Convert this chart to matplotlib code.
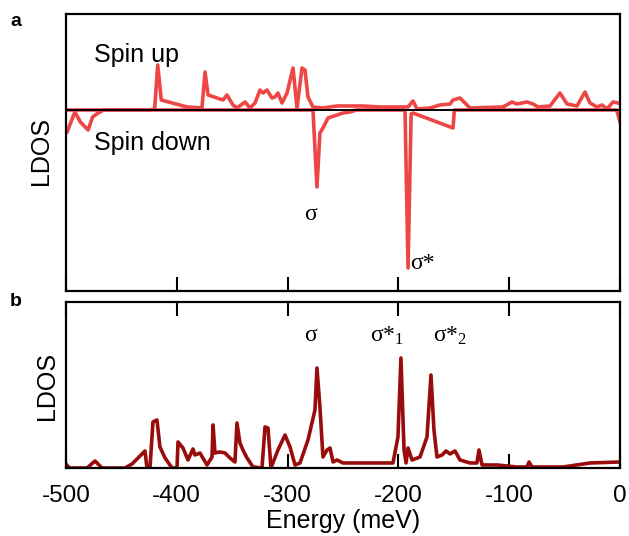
import matplotlib
matplotlib.use("Agg")
import matplotlib.pyplot as plt
import numpy as np

plt.rcParams["axes.unicode_minus"] = False

# ---- Data ----
# Panel a: spin up (positive LDOS)
up_E = [-500, -425, -420, -417.2, -414, -390.8, -377.3, -374.5, -371.8, -358.3, -354.7,
        -349.3, -345.7, -338.4, -333.9, -329.4, -324.9, -322.2, -318.6, -314.1,
        -311.4, -308.7, -305.1, -300.5, -295.1, -291.5, -287.0, -284.3, -281.6,
        -277.1, -268.1, -261.7, -255.4, -241.0, -232.0, -216.6, -195.8, -191.3,
        -186.8, -183.2, -171.5, -162.5, -153.4, -150.7, -144.4, -135.4, -105.6,
        -97.5, -93.0, -84.0, -78.5, -74.0, -63.2, -54.2, -47.8, -38.8, -31.6,
        -27.1, -20.8, -16.2, -11.7, -6.3, -1.8]
up_V = [0, 0, 1, 45, 10, 3, 2, 38, 15, 10, 15,
        5, 2, 8, 2, 7, 20, 17, 20, 12,
        13, 17, 7, 17, 42, 2, 42, 40, 13,
        3, 2, 3, 4, 4, 4, 3, 3, 3,
        9, 1, 2, 5, 6, 10, 12, 2, 3,
        8, 6, 8, 6, 3, 4, 17, 6, 4, 18,
        7, 3, 5, 1, 8, 7]

# Panel a: spin down (negative LDOS)
dn_E = [-499, -492, -487, -480, -476, -471, -466, -300, -277.1, -273.5, -270.8,
        -268.1, -263.5, -255.4, -250, -243.7, -238, -196, -194, -191.3, -188.5,
        -186.8, -150.7, -149.5, -3, 0]
dn_V = [-22, -2, -12, -20, -7, -3, 0, 0, 0, -77, -23,
        -18, -8, -5, -3, -2, 0, 0, -1, -158, -4,
        -3, -18, 0, 0, -12]

# Panel b: total LDOS
b_E = [-500, -499.4, -496.4, -481.0, -473.8, -467.5, -446.8, -440.4, -428.7, -426.9,
       -424.2, -421.5, -417.9, -415.2, -410.6, -404.3, -399.8, -398.9, -394.4,
       -389.9, -385.4, -383.6, -379.1, -372.7, -368.2, -367.3, -365.5, -361.0,
       -356.5, -352.0, -347.5, -345.7, -343.0, -340.3, -336.6, -331.2, -323.1,
       -320.4, -317.7, -315.0, -308.7, -302.3, -297.8, -293.3, -288.8, -281.6,
       -275.3, -273.5, -270.8, -268.1, -264.4, -261.7, -259.0, -255.4, -250.0,
       -246.4, -204.9, -200.4, -197.7, -194.9, -193.1, -191.3, -187.7, -180.5,
       -174.2, -170.6, -167.9, -165.2, -160.6, -157.0, -153.4, -148.9, -144.4,
       -135.4, -129.1, -127.3, -124.5, -111.0, -92.9, -83.9, -82.1, -79.4,
       -51.4, -27.1, 0]
b_V = [4, 3, 0, 0, 7, 0, 0, 4, 17, 0,
       0, 46, 48, 21, 10, 0, 0, 26, 20,
       8, 19, 13, 15, 3, 11, 43, 15, 16,
       15, 10, 6, 45, 25, 18, 10, 1, 0,
       41, 40, 0, 18, 33, 21, 3, 5, 28,
       58, 100, 61, 11, 18, 20, 6, 8, 5,
       5, 5, 31, 110, 18, 5, 20, 8, 11,
       31, 93, 38, 11, 13, 17, 14, 17, 8,
       5, 5, 18, 3, 3, 1, 1, 6, 1,
       1, 5, 6]

xticks = [-500, -400, -300, -200, -100, 0]

# ---- Figure ----
fig = plt.figure(figsize=(6.29, 5.36), dpi=100)
sans = "Liberation Sans"
serif = "Liberation Serif"

ax1 = fig.add_axes([0.1049, 0.4571, 0.8808, 0.5168])
ax2 = fig.add_axes([0.1049, 0.1269, 0.8808, 0.3097])

red = "#ee4545"
dark = "#9a0c0c"

ax1.axhline(0, color="black", lw=1.4, zorder=3)
ax1.plot(up_E, up_V, color=red, lw=2.6, zorder=2, solid_joinstyle="round")
ax1.plot(dn_E, dn_V, color=red, lw=2.6, zorder=2, solid_joinstyle="round")
ax1.set_xlim(-500, 0)
ax1.set_ylim(-181, 96)

ax2.plot(b_E, b_V, color=dark, lw=2.6, solid_joinstyle="round")
ax2.set_xlim(-500, 0)
ax2.set_ylim(0, 166)

for ax in (ax1, ax2):
    for s in ax.spines.values():
        s.set_linewidth(1.6)
    ax.set_yticks([])
    ax.set_xticks(xticks)

ax1.tick_params(axis="x", direction="in", length=10, width=1.5, labelbottom=False)
ax2.tick_params(axis="x", direction="in", length=10, width=1.5, top=True,
                labelsize=17.5, pad=12)
for lab in ax2.get_xticklabels():
    lab.set_family(sans)

ax2.set_xlabel("Energy (meV)", fontsize=18, family=sans, labelpad=2)

fig.text(41/629, 1 - 151/536, "LDOS", fontsize=18, family=sans, rotation=90,
         ha="center", va="center")
fig.text(47/629, 1 - 386/536, "LDOS", fontsize=18, family=sans, rotation=90,
         ha="center", va="center")

ax1.text(-475, 55, "Spin up", fontsize=18, family=sans, va="center", ha="left")
ax1.text(-475, -33, "Spin down", fontsize=18, family=sans, va="center", ha="left")

ax1.text(-279, -105, "σ", fontsize=17, family=serif, ha="center", va="center")
ax1.text(-178, -154, "σ*", fontsize=17, family=serif, ha="center", va="center")
ax2.text(-279, 132, "σ", fontsize=17, family=serif, ha="center", va="center")
ax2.text(-210, 132, r"σ*$\mathregular{_1}$", fontsize=17, family=serif, ha="center", va="center")
ax2.text(-153, 132, r"σ*$\mathregular{_2}$", fontsize=17, family=serif, ha="center", va="center")

fig.text(10/629, 1 - 22/536, "a", fontsize=14, fontweight="bold", family=sans, va="center")
fig.text(10/629, 1 - 302/536, "b", fontsize=14, fontweight="bold", family=sans, va="center")

fig.savefig("out.png", dpi=100)
